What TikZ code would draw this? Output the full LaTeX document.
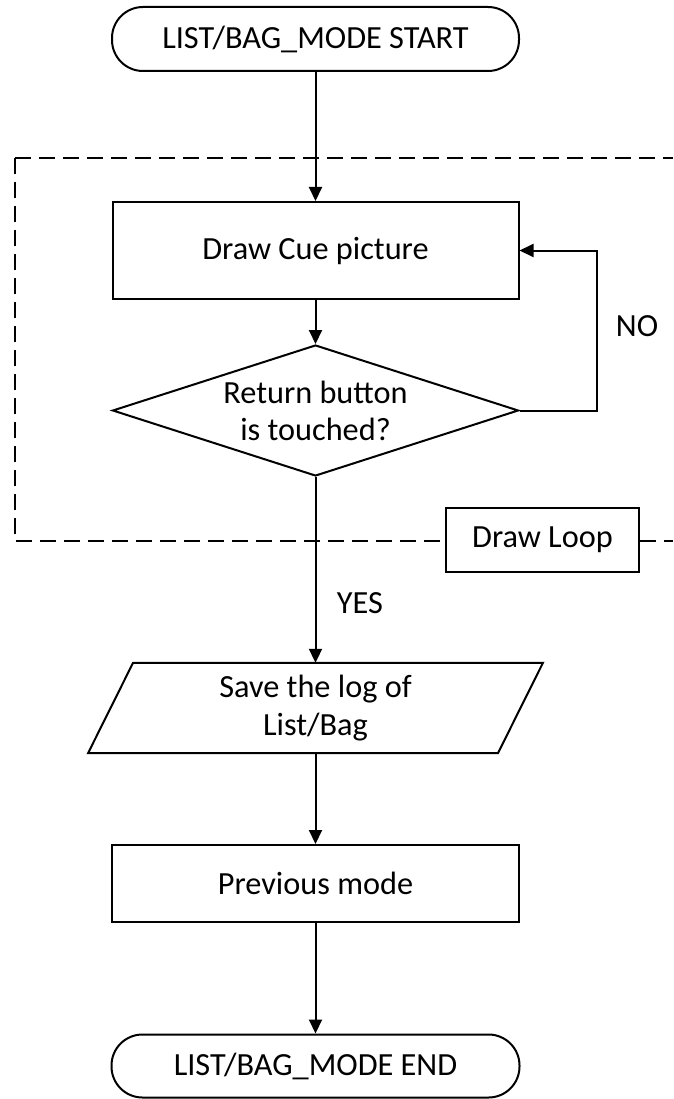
\documentclass[tikz,border=0pt]{standalone}
\usepackage{fontspec}
\setmainfont{Carlito}
\usetikzlibrary{arrows.meta,shapes.geometric}
\begin{document}
\begin{tikzpicture}[x=1pt,y=-1pt,
  every node/.style={font=\fontsize{32.3}{38}\selectfont, inner sep=0pt},
  base/.style={draw, line width=2pt, fill=white},
  terminal/.style={base, rounded corners=31pt, minimum width=407pt, minimum height=64pt},
  process/.style={base, rectangle, minimum width=406pt},
  decision/.style={base, diamond, minimum width=406pt, minimum height=131pt, aspect=3.1},
  flow/.style={line width=2pt, -{Triangle[width=13pt,length=14pt]}},
  loopframe/.style={line width=2pt, dash pattern=on 16pt off 8pt}
]
\useasboundingbox (0,0) rectangle (673,1099);

% dashed frame of the drawing loop, open on the right
\draw[loopframe] (15,158) -- (673,158);
\draw[loopframe] (15,158) -- (15,541) -- (673,541);

% flowchart nodes
\node[terminal] (start) at (315.5,39) {LIST/BAG\_MODE START};
\node[process, minimum height=97pt] (cue) at (315.5,250.5) {Draw Cue picture};
\node[decision, label={[align=center, font=\fontsize{32.3}{37}\selectfont]center:Return button\\is touched?}] (check) at (315.5,410.5) {};
\node[align=center, minimum width=409.5pt, minimum height=90pt] (save) at (315.5,708) {Save the log of\\List/Bag};
\draw[line width=2pt]
  ([xshift=22.5pt]save.north west) -- ([xshift=22.5pt]save.north east)
  -- ([xshift=-22.5pt]save.south east) -- ([xshift=-22.5pt]save.south west) -- cycle;
\node[process, minimum width=407pt, minimum height=77pt] (prev) at (315.5,883.5) {Previous mode};
\node[terminal, minimum width=408pt, minimum height=63pt] (end) at (315.5,1066) {LIST/BAG\_MODE END};

% connectors
\draw[flow] (start.south) -- (cue.north);
\draw[flow] (cue.south) -- (check.north);
\coordinate (noA) at (597,410.5);
\coordinate (noB) at (597,250.5);
\draw[flow] (check.east) -- (noA) -- (noB) -- (cue.east);
\draw[flow] (check.south) -- (save.north);
\draw[flow] (save.south) -- (prev.north);
\draw[flow] (prev.south) -- (end.north);

% loop label box on the dashed frame
\node[base, minimum width=193pt, minimum height=64pt] (loop) at (542.5,540) {Draw Loop};

% branch labels
\node (no) at (637,326) {NO};
\node (yes) at (360,603) {YES};
\end{tikzpicture}
\end{document}
